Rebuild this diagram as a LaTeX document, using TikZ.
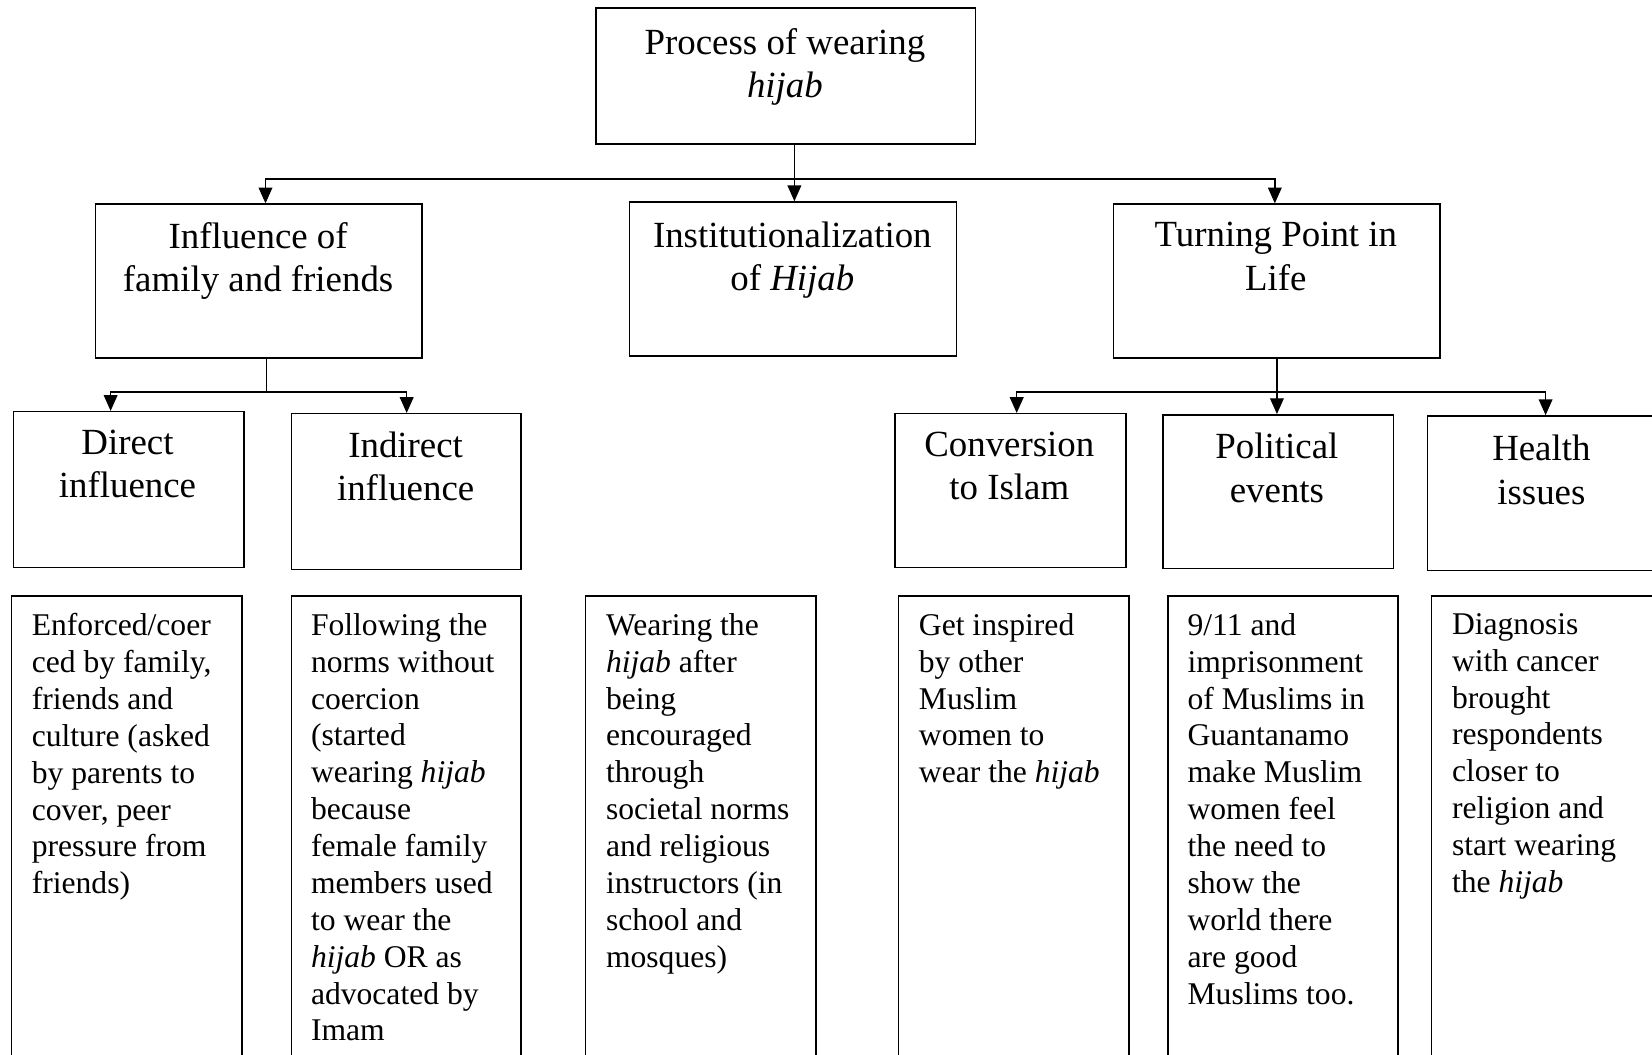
\documentclass[tikz,border=0pt]{standalone}
\usepackage{fontspec}
\setmainfont{Liberation Serif}
\usetikzlibrary{arrows.meta,calc}
\begin{document}
\begin{tikzpicture}[x=1pt,y=-1pt,
  box/.style={draw, line width=1.4pt, inner sep=0pt, anchor=north west},
  head/.style={font=\fontsize{35}{41}\selectfont, align=center, inner sep=0pt, anchor=north},
  body/.style={font=\fontsize{30}{35}\selectfont, align=left, inner sep=0pt, anchor=north west},
  conn/.style={line width=1.4pt, line cap=rect},
  arr/.style={line width=1.4pt, -{Triangle[length=15pt,width=13pt]}}]
\useasboundingbox (0,0) rectangle (1568,1001);
\clip (0,0) rectangle (1568,1001);

% level 1
\node[box, minimum width=360pt, minimum height=129pt] (top) at (565,7) {};
\node[head] (topT) at (745,27) {Process of wearing\\\textit{hijab}};

% level 2
\node[box, minimum width=310pt, minimum height=146pt] (infl) at (90,193) {};
\node[head] (inflT) at (245,211) {Influence of\\family and friends};
\node[box, minimum width=310pt, minimum height=146pt] (inst) at (597,191) {};
\node[head] (instT) at (752,210) {Institutionalization\\of \textit{Hijab}};
\node[box, minimum width=310pt, minimum height=146pt] (turn) at (1056,193) {};
\node[head] (turnT) at (1211,211) {Turning Point in\\Life};

% level 3
\node[box, minimum width=219pt, minimum height=148pt] (direct) at (12,390) {};
\node[head] (directT) at (121,408) {Direct\\influence};
\node[box, minimum width=218pt, minimum height=148pt] (indirect) at (276,392) {};
\node[head] (indirectT) at (385,410) {Indirect\\influence};
\node[box, minimum width=219pt, minimum height=146pt] (conv) at (849,392) {};
\node[head] (convT) at (958,410) {Conversion\\to Islam};
\node[box, minimum width=219pt, minimum height=146pt] (pol) at (1103,393) {};
\node[head] (polT) at (1212,411) {Political\\events};
\node[box, minimum width=240pt, minimum height=147pt] (health) at (1354,394) {};
\node[head] (healthT) at (1463,413) {Health\\issues};

% level 4 (description boxes, running off the page)
\node[box, minimum width=219pt, minimum height=460pt] (b1) at (10,565) {};
\node[body] (b1T) at (30,582) {Enforced/coer\\ced by family,\\friends and\\culture (asked\\by parents to\\cover, peer\\pressure from\\friends)};
\node[box, minimum width=218pt, minimum height=460pt] (b2) at (276,565) {};
\node[body] (b2T) at (295,582) {Following the\\norms without\\coercion\\(started\\wearing \textit{hijab}\\because\\female family\\members used\\to wear the\\\textit{hijab} OR as\\advocated by\\Imam};
\node[box, minimum width=219pt, minimum height=460pt] (b3) at (555,565) {};
\node[body] (b3T) at (575,582) {Wearing the\\\textit{hijab} after\\being\\encouraged\\through\\societal norms\\and religious\\instructors (in\\school and\\mosques)};
\node[box, minimum width=219pt, minimum height=460pt] (b4) at (852,565) {};
\node[body] (b4T) at (872,582) {Get inspired\\by other\\Muslim\\women to\\wear the \textit{hijab}};
\node[box, minimum width=218pt, minimum height=460pt] (b5) at (1108,565) {};
\node[body] (b5T) at (1127,582) {9/11 and\\imprisonment\\of Muslims in\\Guantanamo\\make Muslim\\women feel\\the need to\\show the\\world there\\are good\\Muslims too.};
\node[box, minimum width=240pt, minimum height=460pt] (b6) at (1358,565) {};
\node[body] (b6T) at (1378,582) {Diagnosis\\with cancer\\brought\\respondents\\closer to\\religion and\\start wearing\\the \textit{hijab}};

% connectors: top level
\coordinate (j0) at (754,170);
\coordinate (cL) at (252,170);
\coordinate (cR) at (1210,170);
\draw[line width=1.4pt] (top.south -| j0) -- (j0);
\draw[conn] (cL) -- (cR);
\draw[arr] (j0) -- (j0 |- inst.north);
\draw[arr] (cL) -- (cL |- infl.north);
\draw[arr] (cR) -- (cR |- turn.north);

% connectors: influence branch
\coordinate (j1) at (253,372);
\coordinate (d1) at (105,372);
\coordinate (d2) at (386,372);
\draw[line width=1.4pt] (infl.south -| j1) -- (j1);
\draw[conn] (d1) -- (d2);
\draw[arr] (d1) -- (d1 |- direct.north);
\draw[arr] (d2) -- (d2 |- indirect.north);

% connectors: turning point branch
\coordinate (j2) at (1212,372);
\coordinate (e1) at (965,372);
\coordinate (e3) at (1467,372);
\draw[arr] (turn.south -| j2) -- (j2 |- pol.north);
\draw[conn] (e1) -- (e3);
\draw[arr] (e1) -- (e1 |- conv.north);
\draw[arr] (e3) -- (e3 |- health.north);
\end{tikzpicture}
\end{document}
